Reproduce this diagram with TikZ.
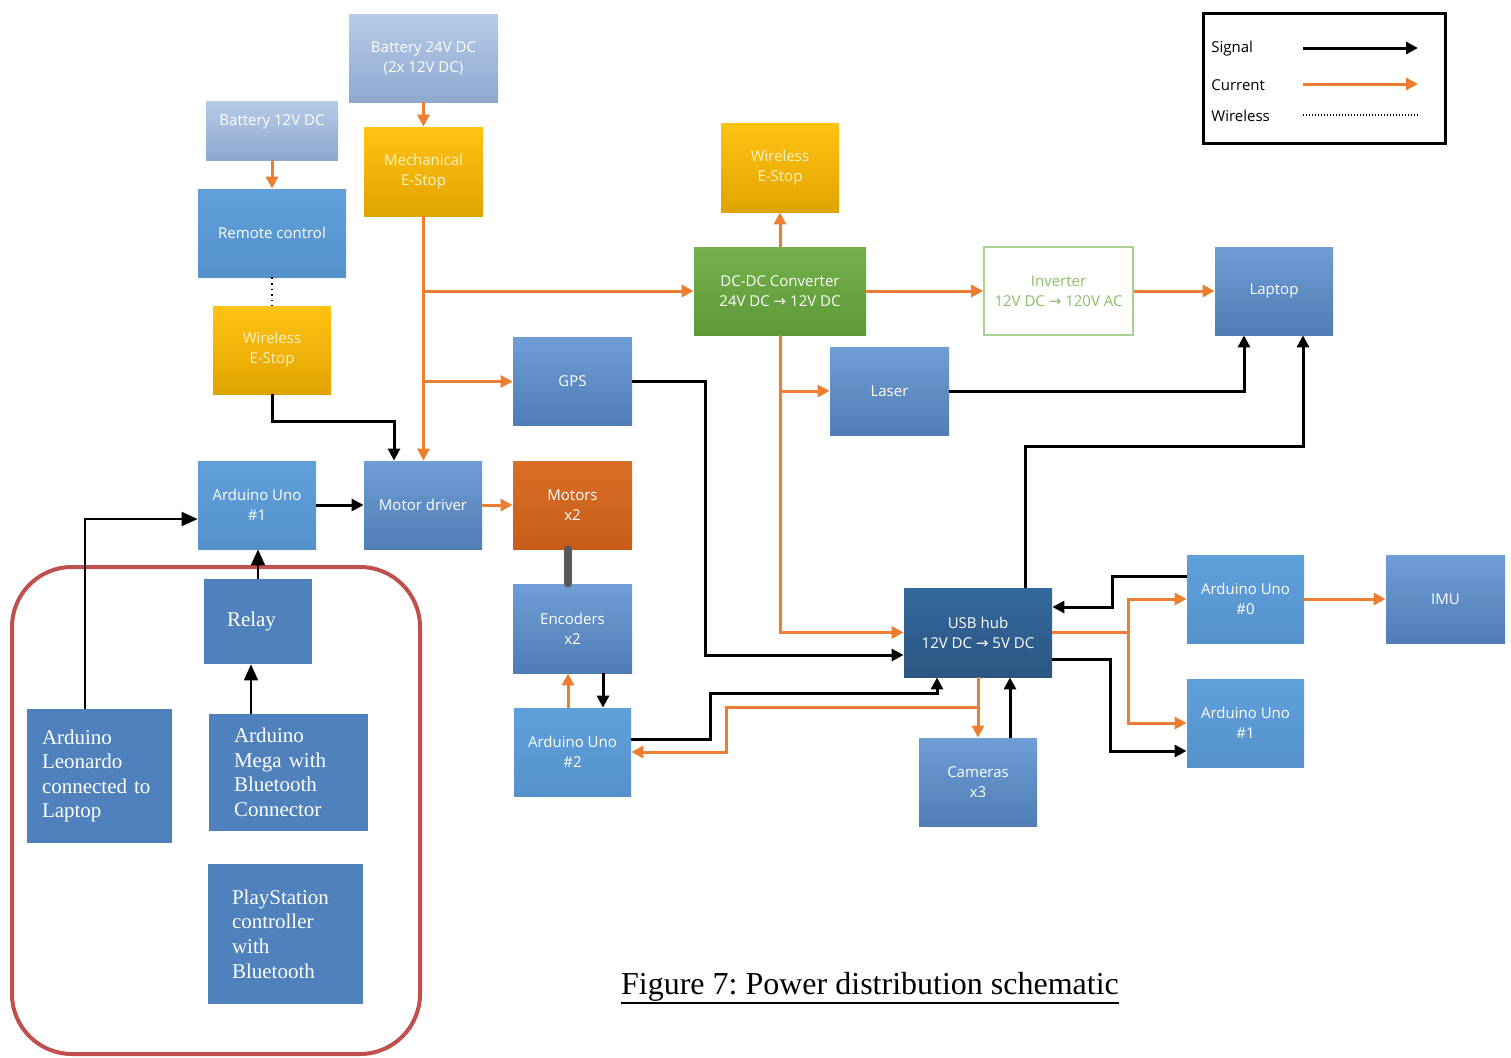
\documentclass[tikz,border=0pt]{standalone}
\usepackage{fontspec}
\setmainfont{Liberation Serif}
\newfontfamily\boxfont{Open Sans}
\newfontfamily\arrowfont{DejaVu Sans}
\newcommand\toarr{{\arrowfont\fontsize{7.5}{10}\selectfont →}}
\usepackage{xcolor}
\usetikzlibrary{arrows.meta}
\definecolor{battTop}{HTML}{B7CBE8}
\definecolor{battBot}{HTML}{8EA8CE}
\definecolor{goldTop}{HTML}{FFC314}
\definecolor{goldBot}{HTML}{E0A400}
\definecolor{goldText}{HTML}{FFF1C4}
\definecolor{lbTop}{HTML}{60A0DA}
\definecolor{lbBot}{HTML}{5592CC}
\definecolor{mbTop}{HTML}{6E9ED5}
\definecolor{mbBot}{HTML}{4F7DB5}
\definecolor{dbTop}{HTML}{33699C}
\definecolor{dbBot}{HTML}{2B5682}
\definecolor{moTop}{HTML}{DA6E27}
\definecolor{moBot}{HTML}{C75D19}
\definecolor{grTop}{HTML}{74B04B}
\definecolor{grBot}{HTML}{5D9937}
\definecolor{invLine}{HTML}{A9D18E}
\definecolor{invText}{HTML}{8CBF67}
\definecolor{serifBlue}{HTML}{4F81BD}
\definecolor{frameRed}{HTML}{C0504D}
\definecolor{current}{HTML}{ED7D31}
\definecolor{linkGrey}{HTML}{595959}

\begin{document}
\begin{tikzpicture}[
  x=0.5pt, y=-0.5pt,
  box/.style={align=center, inner sep=2pt, text=white, minimum width=59.5pt, minimum height=44pt,
    font=\boxfont\fontsize{7.5}{10}\selectfont},
  batt/.style={box, top color=battTop, bottom color=battBot, text=white},
  estop/.style={box, top color=goldTop, bottom color=goldBot, text=goldText},
  lblue/.style={box, top color=lbTop, bottom color=lbBot},
  mblue/.style={box, top color=mbTop, bottom color=mbBot},
  dblue/.style={box, top color=dbTop, bottom color=dbBot},
  motor/.style={box, top color=moTop, bottom color=moBot},
  conv/.style={box, top color=grTop, bottom color=grBot},
  invbox/.style={box, fill=white, draw=invLine, line width=0.8pt, text=invText},
  serifbox/.style={fill=serifBlue, text=white, align=left, inner ysep=3pt,
    font=\fontsize{10.5}{12.3}\selectfont},
  leg/.style={font=\boxfont\fontsize{7.5}{9}\selectfont, text=black, inner sep=2pt},
  sig/.style={-{Triangle[length=6pt,width=6pt]}, line width=1.5pt, black},
  sigthin/.style={-{Triangle[length=8pt,width=7pt]}, line width=1pt, black},
  cur/.style={-{Triangle[length=6pt,width=6pt]}, line width=1.5pt, current},
  wl/.style={dotted, line width=0.8pt, black},
  link/.style={line width=4pt, linkGrey, line cap=round}
]
  \useasboundingbox (0,0) rectangle (1511,1057);

  % power sources and e-stops
  \node[batt, minimum width=74.5pt] (bat24) at (423.5,58) {Battery 24V DC\\(2x 12V DC)};
  \node[batt, minimum width=66pt, minimum height=29.5pt, text depth=10pt] (bat12) at (272,130.5) {Battery 12V DC};
  \node[estop, minimum height=44.5pt] (mech) at (423.5,171.5) {Mechanical\\E-Stop};
  \node[lblue, minimum width=74pt] (remote) at (272,233) {Remote control};
  \node[estop, minimum width=59pt] (wesl) at (272,350) {Wireless\\E-Stop};
  \node[estop, minimum width=59pt, minimum height=44.5pt] (west) at (780,167.5) {Wireless\\E-Stop};

  % converters
  \node[conv, minimum width=86pt] (dcdc) at (780,291) {DC-DC Converter\\24V DC \toarr{} 12V DC};
  \node[invbox, minimum width=74.5pt] (inv) at (1058.5,291) {Inverter\\12V DC \toarr{} 120V AC};
  \node[mblue, minimum width=59pt] (laptop) at (1274,291) {Laptop};
  \node[mblue] (gps) at (572.5,381.5) {GPS};
  \node[mblue] (laser) at (889.5,391) {Laser};

  % drive train
  \node[lblue, minimum width=59pt] (uno1) at (257,505) {Arduino Uno\\\#1};
  \node[mblue, minimum width=59pt] (mdrv) at (423,505) {Motor driver};
  \node[motor] (motors) at (572.5,505) {Motors\\x2};
  \node[mblue, minimum height=44.5pt] (enc) at (572.5,628.5) {Encoders\\x2};
  \node[lblue, minimum width=58.5pt] (uno2) at (572.5,752) {Arduino Uno\\\#2};

  % usb side
  \node[dblue, minimum width=74pt, minimum height=44.5pt] (usb) at (978,632.5) {USB hub\\12V DC \toarr{} 5V DC};
  \node[mblue, minimum width=59pt] (cams) at (978,782) {Cameras\\x3};
  \node[lblue, minimum width=58.5pt] (uno0) at (1245.5,599) {Arduino Uno\\\#0};
  \node[lblue, minimum width=58.5pt] (uno1r) at (1245.5,723) {Arduino Uno\\\#1};
  \node[mblue] (imu) at (1445.5,599) {IMU};

  % remote control group
  \draw[frameRed, line width=2pt, rounded corners=30pt] (12,567) rectangle (420,1054);
  \node[serifbox, minimum width=54pt, minimum height=42.5pt, inner xsep=11.5pt, text width=31pt] (relay) at (258,621.5) {Relay};
  \node[serifbox, minimum width=72.5pt, minimum height=67pt, inner xsep=7.5pt, text width=57.5pt] (leo) at (99.5,776) {Arduino\\Leonardo\\connected to\\Laptop};
  \node[serifbox, minimum width=79.5pt, minimum height=58.5pt, inner xsep=12.5pt, text width=54.5pt] (mega) at (288.5,772.5) {Arduino\\Mega with\\Bluetooth\\Connector};
  \node[serifbox, minimum width=77.5pt, minimum height=70pt, inner xsep=12pt, text width=53.5pt] (ps) at (285.5,934) {PlayStation\\controller\\with\\Bluetooth};

  % legend
  \node[draw, line width=1.5pt, minimum width=121pt, minimum height=65pt] (legend) at (1324,78) {};
  \node[leg, anchor=west] (lsig) at (1207,49) {Signal};
  \node[leg, anchor=west] (lcur) at (1207,85) {Current};
  \node[leg, anchor=west] (lwl) at (1207,116) {Wireless};
  \coordinate (lsigA) at (1303,48);  \coordinate (lsigB) at (1418,48);
  \coordinate (lcurA) at (1303,84);  \coordinate (lcurB) at (1418,84);
  \coordinate (lwlA) at (1303,115);  \coordinate (lwlB) at (1420,115);
  \draw[sig] (lsigA) -- (lsigB);
  \draw[cur] (lcurA) -- (lcurB);
  \draw[line width=0.6pt, dash pattern=on 0.6pt off 0.9pt] (lwlA) -- (lwlB);

  \node[inner sep=0pt, font=\fontsize{16}{19}\selectfont\frenchspacing] (caption) at (870,987) {Figure 7: Power distribution schematic};
  \draw[line width=1pt] ([yshift=-0.3pt]caption.south west) -- ([yshift=-0.3pt]caption.south east);

  % current
  \draw[cur] (bat24) -- (mech);
  \draw[cur] (bat12) -- (remote);
  \draw[cur] (mech.south) -- (mech.south |- mdrv.north);
  \draw[cur] (mech.south |- dcdc.west) -- (dcdc.west);
  \draw[cur] (mech.south |- gps.west) -- (gps.west);
  \draw[cur] (dcdc) -- (west);
  \draw[cur] (dcdc) -- (inv);
  \draw[cur] (inv) -- (laptop);
  \draw[cur] (dcdc.south) |- (usb.west);
  \draw[cur] (dcdc.south |- laser.west) -- (laser.west);
  \draw[cur] (mdrv) -- (motors);
  \draw[cur] (usb) -- (cams);
  \coordinate (cjog) at (726,707);
  \draw[cur] (usb.south |- cjog) -- (cjog) |- (uno2.east);
  \draw[cur] (568,0 |- uno2.north) -- (568,0 |- enc.south);
  \coordinate (csplit) at (1128,632.5);
  \draw[cur] (usb.east) -- (csplit) |- (uno0.west);
  \draw[cur] (csplit) |- (uno1r.west);
  \draw[cur] (uno0) -- (imu);

  % signal
  \coordinate (wjog) at (394,421);
  \draw[sig] (wesl.south) |- (wjog) -- (wjog |- mdrv.north);
  \draw[sig] (uno1) -- (mdrv);
  \coordinate (gjog) at (705,381.5);
  \draw[sig] (gps.east) -- (gjog) |- (usb.west |- 0,655);
  \draw[sig] (laser.east) -| (1244,0 |- laptop.south);
  \coordinate (ujog) at (1025,446);
  \draw[sig] (ujog |- usb.north) -- (ujog) -| (1303,0 |- laptop.south);
  \coordinate (ajog) at (1112,576);
  \draw[sig] (uno0.west |- ajog) -- (ajog) |- (usb.east |- 0,607);
  \coordinate (bjog) at (1110,659);
  \draw[sig] (usb.east |- bjog) -- (bjog) |- (uno1r.west |- 0,751);
  \draw[sig] (1010,0 |- cams.north) -- (1010,0 |- usb.south);
  \coordinate (djog) at (710,693);
  \draw[sig] (uno2.east |- 0,739) -| (djog) -| (937,0 |- usb.south);
  \draw[sig] (603,0 |- enc.south) -- (603,0 |- uno2.north);
  \draw[link] (568,0 |- motors.south) -- (568,0 |- enc.north);

  % remote group signal
  \draw[sigthin] (relay.north) -- (relay.north |- uno1.south);
  \draw[sigthin] (251,0 |- mega.north) -- (251,0 |- relay.south);
  \coordinate (ljog) at (85,519);
  \draw[sigthin] (85,0 |- leo.north) -- (ljog) -- (uno1.west |- ljog);

  % wireless link
  \draw[wl] (remote) -- (wesl);
\end{tikzpicture}
\end{document}
